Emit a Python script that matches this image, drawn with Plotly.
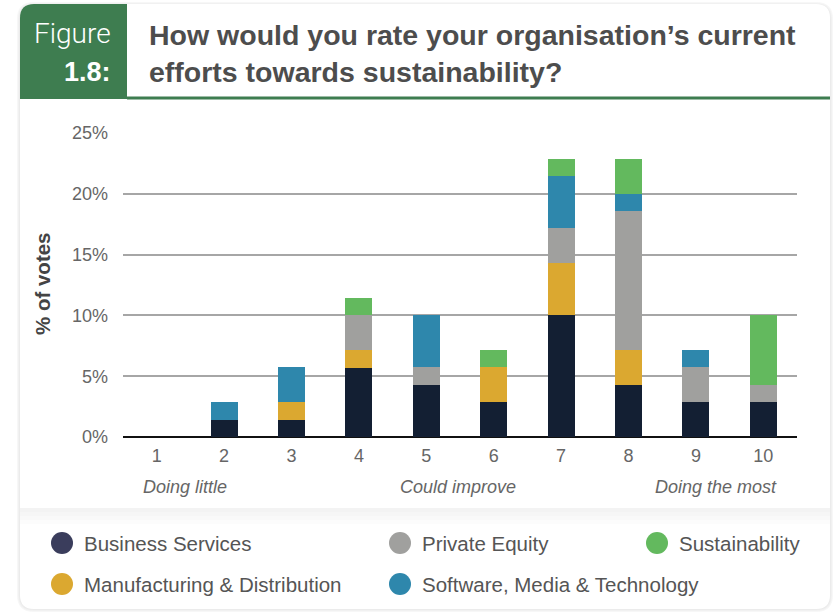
import plotly.graph_objects as go

# Survey data: share of votes (%) per rating, split by sector
ratings = ["1", "2", "3", "4", "5", "6", "7", "8", "9", "10"]
business_services = [0, 1.43, 1.43, 5.71, 4.29, 2.86, 10.0, 4.29, 2.86, 2.86]
manufacturing = [0, 0, 1.43, 1.43, 0, 2.86, 4.29, 2.86, 0, 0]
private_equity = [0, 0, 0, 2.86, 1.43, 0, 2.86, 11.43, 2.86, 1.43]
software_media = [0, 1.43, 2.86, 0, 4.29, 0, 4.29, 1.43, 1.43, 0]
sustainability = [0, 0, 0, 1.43, 0, 1.43, 1.43, 2.86, 0, 5.71]

series_names = ["Business Services", "Manufacturing & Distribution", "Private Equity",
                "Software, Media & Technology", "Sustainability"]
series_values = [business_services, manufacturing, private_equity, software_media, sustainability]
bar_colors = ["#131f33", "#dba830", "#a0a09e", "#2e87ac", "#63b95e"]
legend_colors = ["#3a3d5c", "#dba830", "#a0a09e", "#2e87ac", "#63b95e"]

y_ticks = [0, 5, 10, 15, 20, 25]
y_tick_labels = ["0%", "5%", "10%", "15%", "20%", "25%"]
scale_labels = ["Doing little", "Could improve", "Doing the most"]

W_PX, H_PX = 836, 613
L, R, T, B = 123, 797, 133, 437
PW, PH = R - L, B - T


def X(px):
    return (px - L) / PW


def Y(py):
    return (B - py) / PH


fig = go.Figure()
for name, vals, col in zip(series_names, series_values, bar_colors):
    fig.add_trace(go.Bar(x=ratings, y=vals, name=name, marker=dict(color=col, line=dict(width=0)),
                         showlegend=False))

shapes = []


def rounded_rect(x0, y0, x1, y1, r):
    return (f"M {X(x0+r)},{Y(y0)} L {X(x1-r)},{Y(y0)} Q {X(x1)},{Y(y0)} {X(x1)},{Y(y0+r)} "
            f"L {X(x1)},{Y(y1-r)} Q {X(x1)},{Y(y1)} {X(x1-r)},{Y(y1)} "
            f"L {X(x0+r)},{Y(y1)} Q {X(x0)},{Y(y1)} {X(x0)},{Y(y1-r)} "
            f"L {X(x0)},{Y(y0+r)} Q {X(x0)},{Y(y0)} {X(x0+r)},{Y(y0)} Z")


# card shadow + card body
for i, c in enumerate(["#f7f7f7", "#f1f1f1", "#ebebeb"]):
    d = 3 - i
    shapes.append(dict(type="path", path=rounded_rect(20 - d, 4 - d + 1, 830 + d, 609 + d, 14 + d),
                       xref="paper", yref="paper", fillcolor=c, line=dict(width=0), layer="below"))
shapes.append(dict(type="path", path=rounded_rect(20, 4, 830, 609, 14), xref="paper", yref="paper",
                   fillcolor="white", line=dict(width=0), layer="below"))
# green header tab (rounded top-left corner)
r = 14
tab = (f"M {X(20)},{Y(4+r)} Q {X(20)},{Y(4)} {X(20+r)},{Y(4)} L {X(127)},{Y(4)} "
       f"L {X(127)},{Y(99)} L {X(20)},{Y(99)} Z")
shapes.append(dict(type="path", path=tab, xref="paper", yref="paper", fillcolor="#3e7d50",
                   line=dict(width=0), layer="below"))
shapes.append(dict(type="line", x0=X(127), x1=X(830), y0=Y(98), y1=Y(98), xref="paper", yref="paper",
                   line=dict(color="#3e7d50", width=3), layer="below"))
# soft band above the legend
for i, c in enumerate(["#f3f3f3", "#f6f6f6", "#f9f9f9", "#fcfcfc"]):
    shapes.append(dict(type="rect", x0=X(20), x1=X(830), y0=Y(508 + i * 4), y1=Y(512 + i * 4),
                       xref="paper", yref="paper", fillcolor=c, line=dict(width=0), layer="below"))
# legend dots and names
legend_pos = {"Business Services": (62, 543), "Private Equity": (400, 543), "Sustainability": (657, 543),
              "Manufacturing & Distribution": (62, 584), "Software, Media & Technology": (400, 584)}
rad = 11
annotations = []
for name, col in zip(series_names, legend_colors):
    cx, cy = legend_pos[name]
    shapes.append(dict(type="circle", x0=X(cx - rad), x1=X(cx + rad), y0=Y(cy + rad), y1=Y(cy - rad),
                       xref="paper", yref="paper", fillcolor=col, line=dict(width=0), layer="above"))
    annotations.append(dict(text=name, x=X(cx + 20), y=Y(cy), xref="paper", yref="paper",
                            xanchor="left", yanchor="middle", showarrow=False,
                            font=dict(family="Liberation Sans", size=20.5, color="#555555")))

# header texts
annotations += [
    dict(text="Figure", x=X(113), y=Y(33), xanchor="right", yanchor="middle", showarrow=False,
         xref="paper", yref="paper", font=dict(family="Roboto", weight=300, size=28, color="white")),
    dict(text="<b>1.8:</b>", x=X(113), y=Y(72), xanchor="right", yanchor="middle", showarrow=False,
         xref="paper", yref="paper", font=dict(family="Liberation Sans", size=27, color="white")),
    dict(text="<b>How would you rate your organisation’s current</b>", x=X(147), y=Y(35),
         xanchor="left", yanchor="middle", showarrow=False, xref="paper", yref="paper",
         font=dict(family="Liberation Sans", size=28.5, color="#4d4d4d")),
    dict(text="<b>efforts towards sustainability?</b>", x=X(147), y=Y(72),
         xanchor="left", yanchor="middle", showarrow=False, xref="paper", yref="paper",
         font=dict(family="Liberation Sans", size=28.5, color="#4d4d4d")),
    dict(text="<b>% of votes</b>", x=X(42), y=Y(284), textangle=-90, xanchor="center", yanchor="middle",
         showarrow=False, xref="paper", yref="paper",
         font=dict(family="Liberation Sans", size=20.5, color="#444444")),
]
for text, cx in zip(scale_labels, [185, 458, 716]):
    annotations.append(dict(text=f"<i>{text}</i>", x=X(cx), y=Y(487), xanchor="center", yanchor="middle",
                            showarrow=False, xref="paper", yref="paper",
                            font=dict(family="Liberation Sans", size=18, color="#666666")))

fig.update_layout(
    width=W_PX, height=H_PX, autosize=False,
    margin=dict(l=L, r=W_PX - R, t=T, b=H_PX - B, pad=0),
    paper_bgcolor="white", plot_bgcolor="rgba(0,0,0,0)",
    barmode="stack", bargap=0.6,
    shapes=shapes, annotations=annotations,
    xaxis=dict(type="category", categoryorder="array", categoryarray=ratings, showgrid=False,
               zeroline=False, showline=False, ticks="", ticklabelstandoff=6,
               tickfont=dict(family="Liberation Sans", size=18, color="#666666")),
    yaxis=dict(range=[0, 25], tickmode="array", tickvals=y_ticks, ticktext=y_tick_labels,
               showgrid=True, gridcolor="#a6a6a6", gridwidth=1.5, zeroline=True,
               zerolinecolor="#111111", zerolinewidth=2, showline=False, ticks="",
               ticklabelstandoff=14,
               tickfont=dict(family="Liberation Sans", size=18, color="#666666")),
    font=dict(family="Liberation Sans"),
)

fig.write_html("out.html")
